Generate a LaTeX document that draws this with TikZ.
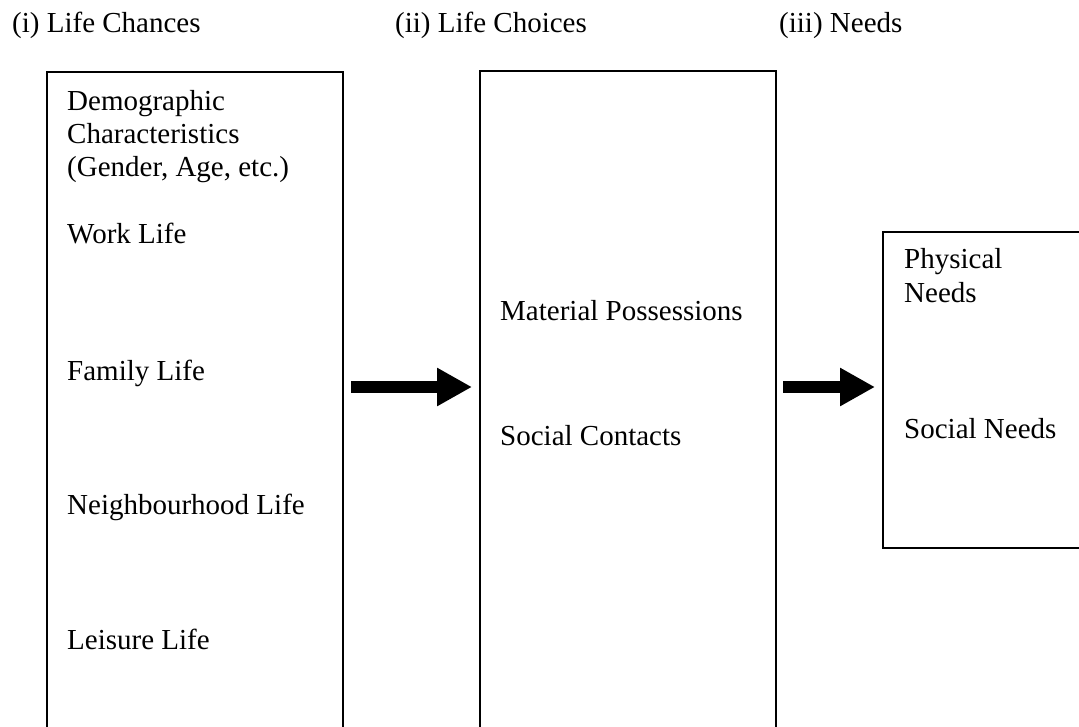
\documentclass[tikz,border=0pt]{standalone}
\usepackage{fontspec}
\setmainfont{Liberation Serif}
\usetikzlibrary{arrows.meta}
\begin{document}
\begin{tikzpicture}[x=1pt,y=-1pt,
  txt/.style={anchor=base west,inner sep=0pt,font=\fontsize{29}{33}\selectfont},
  boxline/.style={draw=black,line width=2pt,anchor=north west,inner sep=0pt},
  blockarrow/.style={line width=12pt,-{Triangle[length=35pt,width=36pt]}}]
\clip (0,0) rectangle (1079,726);
\useasboundingbox (0,0) rectangle (1079,726);
% headings
\node[txt] (h1) at (12,32) {(i) Life Chances};
\node[txt] (h2) at (395,32) {(ii) Life Choices};
\node[txt] (h3) at (779,32) {(iii) Needs};
% boxes
\node[boxline,minimum width=296pt,minimum height=700pt] (b1) at (46,71) {};
\node[boxline,minimum width=296pt,minimum height=700pt] (b2) at (479,70) {};
\node[boxline,minimum width=240pt,minimum height=316pt] (b3) at (882,231) {};
% box 1 texts
\node[txt] (t11) at (67,110) {Demographic};
\node[txt] (t12) at (67,143) {Characteristics};
\node[txt] (t13) at (67,176) {(Gender, Age, etc.)};
\node[txt] (t14) at (67,243) {Work Life};
\node[txt] (t15) at (67,380) {Family Life};
\node[txt] (t16) at (67,514) {Neighbourhood Life};
\node[txt] (t17) at (67,649) {Leisure Life};
% box 2 texts
\node[txt] (t21) at (500,320) {Material Possessions};
\node[txt] (t22) at (500,445) {Social Contacts};
% box 3 texts
\node[txt] (t31) at (904,268) {Physical};
\node[txt] (t32) at (904,302) {Needs};
\node[txt] (t33) at (904,438) {Social Needs};
% arrows
\coordinate (a1s) at (351,387);
\coordinate (a1e) at (472,387);
\coordinate (a2s) at (783,387);
\coordinate (a2e) at (875,387);
\draw[blockarrow] (a1s) -- (a1e);
\draw[blockarrow] (a2s) -- (a2e);
\end{tikzpicture}
\end{document}
